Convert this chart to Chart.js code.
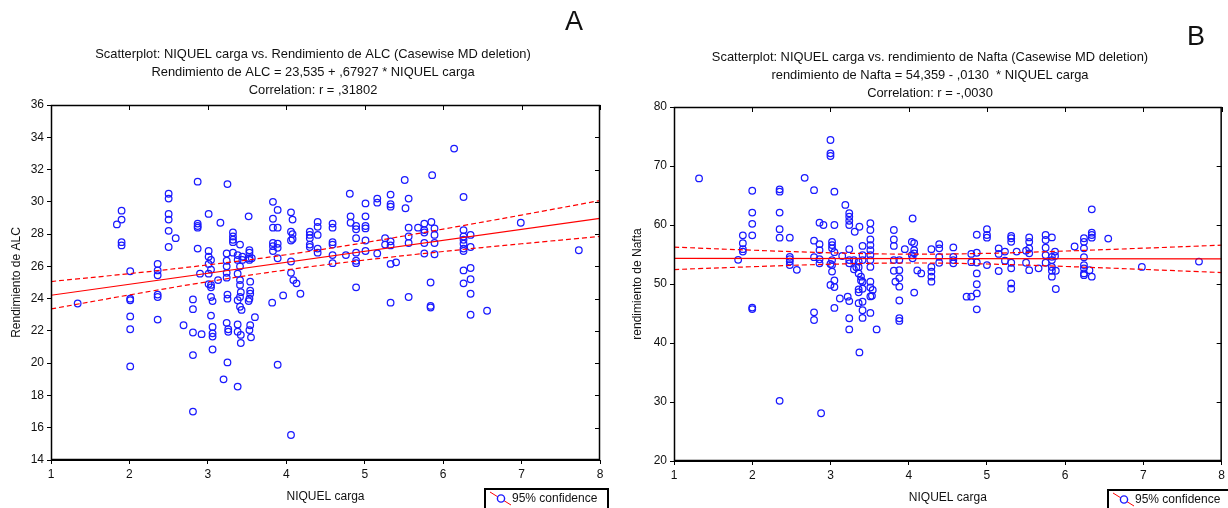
<!DOCTYPE html>
<html>
<head>
<meta charset="utf-8">
<script src="https://cdn.jsdelivr.net/npm/chart.js@4.4.0/dist/chart.umd.min.js"></script>
<style>
  html, body { margin: 0; padding: 0; background: #fff; }
  body { width: 1228px; height: 508px; position: relative; overflow: hidden; }
  canvas { position: absolute; top: 0; }
  #chartA { left: 0; }
  #chartB { left: 614px; }
</style>
</head>
<body>
<canvas id="chartA" width="614" height="508"></canvas>
<canvas id="chartB" width="614" height="508"></canvas>
<script>
// --- Datos A: NIQUEL carga vs Rendimiento de ALC ---
const alcX = [
  1.34, 1.84, 1.90, 1.90, 1.90, 1.90, 2.01, 2.01, 2.01, 2.01, 2.01, 2.01,
  2.36, 2.36, 2.36, 2.36, 2.36, 2.36, 2.50, 2.50, 2.50, 2.50, 2.50, 2.50,
  2.59, 2.69, 2.81, 2.81, 2.81, 2.81, 2.81, 2.87, 2.87, 2.87, 2.87, 2.87,
  2.90, 2.92, 3.01, 3.01, 3.01, 3.04, 3.01, 3.04, 3.01, 3.01, 3.04, 3.04,
  3.04, 3.06, 3.04, 3.06, 3.06, 3.06, 3.06, 3.13, 3.16, 3.20, 3.24, 3.24,
  3.24, 3.24, 3.24, 3.25, 3.25, 3.25, 3.24, 3.26, 3.26, 3.25, 3.32, 3.32,
  3.32, 3.32, 3.32, 3.38, 3.38, 3.38, 3.38, 3.38, 3.38, 3.38, 3.41, 3.41,
  3.41, 3.41, 3.42, 3.41, 3.41, 3.43, 3.42, 3.42, 3.44, 3.44, 3.52, 3.53,
  3.53, 3.53, 3.56, 3.53, 3.54, 3.54, 3.54, 3.53, 3.52, 3.54, 3.53, 3.55,
  3.60, 3.82, 3.83, 3.83, 3.83, 3.83, 3.83, 3.83, 3.89, 3.89, 3.89, 3.89,
  3.89, 3.89, 3.96, 4.06, 4.08, 4.06, 4.08, 4.08, 4.06, 4.06, 4.06, 4.09,
  4.13, 4.18, 4.06, 4.30, 4.30, 4.30, 4.30, 4.30, 4.40, 4.40, 4.40, 4.40,
  4.40, 4.59, 4.59, 4.59, 4.59, 4.59, 4.59, 4.76, 4.81, 4.82, 4.82, 4.89,
  4.89, 4.89, 4.89, 4.89, 4.89, 4.89, 5.01, 5.01, 5.01, 5.01, 5.01, 5.01,
  5.16, 5.16, 5.16, 5.26, 5.26, 5.33, 5.33, 5.33, 5.33, 5.33, 5.33, 5.33,
  5.40, 5.51, 5.52, 5.56, 5.56, 5.56, 5.56, 5.56, 5.68, 5.76, 5.76, 5.76,
  5.76, 5.76, 5.85, 5.86, 5.89, 5.89, 5.89, 5.89, 5.84, 5.84, 5.84, 6.14,
  6.26, 6.26, 6.26, 6.26, 6.26, 6.26, 6.26, 6.35, 6.35, 6.26, 6.35, 6.26,
  6.35, 6.35, 6.35, 6.56, 6.99, 7.73
];
const alcY = [
  23.7, 28.6, 29.45, 28.9, 27.5, 27.3, 25.7, 24.0, 23.9, 22.9, 22.1, 19.8,
  26.15, 25.75, 25.45, 24.25, 24.1, 22.7, 30.5, 30.2, 29.25, 28.9, 28.2, 27.2,
  27.75, 22.35, 23.95, 23.35, 21.9, 20.5, 17.0, 31.25, 28.65, 28.5, 28.4, 27.1,
  25.55, 21.8, 29.25, 26.95, 26.6, 26.4, 26.15, 25.8, 25.55, 24.9, 24.85, 24.7,
  24.1, 23.85, 22.95, 22.25, 21.85, 21.65, 20.85, 25.15, 28.7, 19.0, 26.8, 26.35,
  26.0, 25.6, 25.3, 31.1, 24.25, 24.0, 22.5, 22.1, 21.95, 20.05, 28.1, 27.85,
  27.65, 27.5, 26.85, 26.7, 26.4, 25.55, 23.9, 22.4, 21.95, 18.55, 27.35, 26.0,
  25.15, 24.85, 24.4, 24.1, 23.5, 23.3, 21.75, 21.25, 26.6, 26.4, 29.1, 27.0,
  26.85, 26.5, 26.5, 26.4, 25.05, 24.5, 24.3, 24.0, 23.85, 22.35, 22.05, 21.6,
  22.85, 23.75, 30.0, 28.95, 28.4, 27.45, 27.25, 26.95, 29.5, 28.4, 27.4, 27.15,
  26.5, 19.9, 24.2, 29.35, 28.9, 28.15, 28.0, 27.7, 27.6, 26.3, 25.6, 25.15,
  24.95, 24.3, 15.55, 28.15, 27.95, 27.75, 27.35, 27.2, 28.75, 28.45, 27.95, 27.1,
  26.85, 28.65, 28.4, 27.5, 27.35, 26.7, 26.2, 26.7, 30.5, 29.1, 28.7, 28.5,
  28.3, 27.75, 26.85, 26.35, 26.2, 24.7, 29.9, 29.1, 28.5, 28.35, 27.6, 26.95,
  30.2, 29.95, 26.8, 27.75, 27.35, 30.45, 29.85, 29.7, 27.55, 27.3, 26.15, 23.75,
  26.25, 31.35, 29.6, 30.2, 28.4, 27.85, 27.45, 24.1, 28.4, 28.65, 28.25, 28.1,
  27.45, 26.8, 28.75, 31.65, 28.35, 27.95, 27.45, 26.75, 25.0, 23.55, 23.45, 33.3,
  30.3, 28.25, 27.85, 27.65, 27.4, 27.1, 26.95, 27.95, 27.2, 25.75, 25.9, 24.95,
  25.2, 24.3, 23.0, 23.25, 28.7, 27.0
];

// --- Datos B: NIQUEL carga vs rendimiento de Nafta ---
const naftaX = [
  1.32, 1.82, 1.88, 1.88, 1.88, 1.88, 2.00, 2.00, 2.00, 2.00, 2.00, 2.00,
  2.35, 2.35, 2.35, 2.35, 2.35, 2.35, 2.48, 2.48, 2.48, 2.48, 2.48, 2.57,
  2.67, 2.79, 2.79, 2.79, 2.79, 2.79, 2.86, 2.86, 2.86, 2.86, 2.86, 2.88,
  2.91, 3.00, 3.00, 3.00, 3.00, 3.00, 3.02, 3.02, 3.02, 3.02, 3.02, 3.02,
  3.05, 3.05, 3.05, 3.05, 3.05, 3.05, 3.12, 3.15, 3.19, 3.22, 3.24, 3.24,
  3.24, 3.24, 3.24, 3.24, 3.24, 3.24, 3.24, 3.24, 3.30, 3.30, 3.31, 3.33,
  3.36, 3.36, 3.36, 3.36, 3.36, 3.36, 3.37, 3.37, 3.39, 3.39, 3.41, 3.41,
  3.41, 3.41, 3.41, 3.41, 3.41, 3.41, 3.51, 3.51, 3.51, 3.51, 3.51, 3.51,
  3.51, 3.51, 3.51, 3.51, 3.51, 3.51, 3.54, 3.53, 3.59, 3.81, 3.81, 3.81,
  3.81, 3.81, 3.83, 3.88, 3.88, 3.88, 3.88, 3.88, 3.88, 3.88, 3.95, 4.05,
  4.04, 4.07, 4.04, 4.07, 4.07, 4.05, 4.07, 4.11, 4.16, 4.29, 4.29, 4.29,
  4.29, 4.29, 4.39, 4.39, 4.39, 4.39, 4.57, 4.57, 4.57, 4.57, 4.74, 4.80,
  4.80, 4.80, 4.87, 4.87, 4.87, 4.87, 4.87, 4.87, 4.87, 5.00, 5.00, 5.00,
  5.00, 5.15, 5.15, 5.15, 5.23, 5.23, 5.31, 5.31, 5.31, 5.31, 5.31, 5.31,
  5.31, 5.38, 5.50, 5.50, 5.54, 5.54, 5.54, 5.54, 5.54, 5.66, 5.75, 5.75,
  5.75, 5.75, 5.75, 5.83, 5.83, 5.83, 5.83, 5.83, 5.83, 5.87, 5.87, 5.88,
  5.88, 6.12, 6.24, 6.24, 6.24, 6.24, 6.24, 6.24, 6.24, 6.24, 6.31, 6.34,
  6.34, 6.34, 6.34, 6.34, 6.55, 6.98, 7.71
];
const naftaY = [
  67.9, 54.1, 58.25, 56.9, 55.9, 55.5, 65.8, 62.1, 60.2, 58.25, 46.0, 45.75,
  66.05, 65.65, 62.1, 59.3, 57.85, 30.2, 57.85, 54.6, 54.2, 53.8, 53.2, 52.4,
  68.0, 65.9, 57.35, 54.55, 45.2, 43.9, 60.4, 56.75, 55.75, 54.2, 53.5, 28.1,
  60.0, 74.4, 72.15, 71.7, 53.4, 49.85, 57.15, 56.6, 56.05, 54.05, 53.2, 52.1,
  65.65, 60.0, 55.4, 50.6, 49.5, 45.95, 47.55, 54.75, 63.4, 47.85, 62.0, 61.4,
  60.7, 60.0, 55.9, 54.05, 53.5, 47.1, 44.2, 42.3, 54.05, 52.5, 58.85, 52.85,
  53.8, 52.85, 51.8, 49.1, 48.6, 46.75, 59.7, 38.4, 51.25, 50.6, 56.45, 54.9,
  54.05, 50.4, 49.2, 47.0, 45.55, 44.25, 60.3, 59.15, 57.55, 56.6, 55.75, 54.9,
  54.05, 52.9, 50.4, 49.4, 47.9, 45.1, 49.0, 48.0, 42.3, 59.15, 57.55, 56.45,
  54.05, 52.25, 50.4, 54.05, 52.35, 51.0, 49.55, 47.2, 44.2, 43.75, 55.9, 61.1,
  57.15, 56.9, 54.9, 55.75, 55.2, 54.35, 48.55, 52.3, 51.8, 55.9, 52.9, 52.1,
  51.25, 50.4, 56.75, 56.05, 54.6, 53.6, 56.2, 54.6, 54.05, 53.5, 47.85, 55.1,
  53.7, 47.85, 58.35, 55.3, 53.65, 51.8, 49.95, 48.4, 45.7, 59.3, 58.3, 57.85,
  53.2, 56.05, 55.1, 52.2, 55.5, 53.95, 58.15, 57.75, 57.15, 53.6, 52.65, 50.1,
  49.2, 55.5, 55.65, 53.6, 57.9, 57.15, 56.05, 55.2, 52.35, 52.65, 58.3, 57.45,
  56.15, 54.9, 53.6, 57.9, 54.6, 54.05, 52.9, 52.25, 51.25, 55.5, 54.75, 52.25,
  49.15, 56.35, 57.75, 57.15, 56.05, 54.55, 53.2, 52.65, 51.8, 51.5, 52.35, 62.65,
  58.7, 58.3, 57.85, 51.25, 57.7, 52.9, 53.8
];

// Recta de regresion e intervalos de confianza 95%
const fitX = [1, 8];
const alcFit = [24.21, 28.97];
const naftaFit = [54.35, 54.26];
const bandX = [1, 2, 3, 4, 5, 6, 7, 8];
const alcUpper = [25.06, 25.55, 26.09, 26.72, 27.47, 28.31, 29.18, 30.08];
const alcLower = [23.36, 24.23, 25.05, 25.78, 26.39, 26.92, 27.40, 27.86];
const naftaUpper = [56.25, 55.73, 55.29, 55.06, 55.19, 55.59, 56.07, 56.58];
const naftaLower = [52.45, 52.93, 53.35, 53.56, 53.39, 52.97, 52.47, 51.94];

const FONT = '"Liberation Sans", Arial, sans-serif';
const pts = (xs, ys) => xs.map((x, i) => ({ x: x, y: ys[i] }));

// Marco, ticks interiores, titulos y leyenda
const extras = {
  id: 'extras',
  afterDraw(chart, args, o) {
    const ctx = chart.ctx;
    const a = chart.chartArea;
    const xs = chart.scales.x, ys = chart.scales.y;
    ctx.save();
    ctx.strokeStyle = '#000';
    ctx.lineWidth = 1.5;
    ctx.strokeRect(a.left + 0.5, a.top + 0.5, a.right - a.left - 1, a.bottom - a.top - 1);
    ctx.lineWidth = 1;
    ctx.beginPath();
    xs.ticks.forEach(t => {
      const px = Math.round(xs.getPixelForValue(t.value)) + 0.5;
      ctx.moveTo(px, a.top); ctx.lineTo(px, a.top + 5);
    });
    ys.ticks.forEach(t => {
      const py = Math.round(ys.getPixelForValue(t.value)) + 0.5;
      ctx.moveTo(a.right, py); ctx.lineTo(a.right - 5, py);
    });
    ctx.stroke();

    ctx.fillStyle = '#111';
    ctx.textAlign = 'center';
    ctx.textBaseline = 'middle';
    ctx.font = '12.9px ' + FONT;
    o.lines.forEach((s, i) => ctx.fillText(s, o.titleX, o.titleY + i * 18));
    ctx.font = '27px ' + FONT;
    ctx.fillText(o.letter, o.letterX, o.letterY);

    // leyenda
    const lx = o.legendX, ly = o.legendY;
    ctx.lineWidth = 2;
    ctx.strokeStyle = '#000';
    ctx.strokeRect(lx, ly, o.legendW, 30);
    ctx.lineWidth = 1;
    ctx.strokeStyle = '#ff0000';
    ctx.beginPath();
    ctx.moveTo(lx + 5, ly + 3); ctx.lineTo(lx + 26, ly + 16);
    ctx.stroke();
    ctx.strokeStyle = '#1a1aff';
    ctx.lineWidth = 1.4;
    ctx.fillStyle = '#fff';
    ctx.beginPath();
    ctx.arc(lx + 16, ly + 9.5, 3.6, 0, Math.PI * 2);
    ctx.fill(); ctx.stroke();
    ctx.fillStyle = '#111';
    ctx.textAlign = 'left';
    ctx.font = '12px ' + FONT;
    ctx.fillText('95% confidence', lx + 27, ly + 9.5);
    ctx.restore();
  }
};

function makeChart(id, p) {
  const ctx = document.getElementById(id).getContext('2d');
  return new Chart(ctx, {
    type: 'scatter',
    data: {
      datasets: [
        { type: 'line', data: pts(fitX, p.fit), borderColor: '#ff0000', borderWidth: 1.2,
          pointRadius: 0, fill: false, order: 0 },
        { type: 'line', data: pts(bandX, p.upper), borderColor: '#ff0000', borderWidth: 1.2,
          borderDash: [5, 3], pointRadius: 0, fill: false, tension: 0.4, order: 0 },
        { type: 'line', data: pts(bandX, p.lower), borderColor: '#ff0000', borderWidth: 1.2,
          borderDash: [5, 3], pointRadius: 0, fill: false, tension: 0.4, order: 0 },
        { data: pts(p.xs, p.ys), borderColor: '#1a1aff', backgroundColor: 'rgba(255,255,255,0)',
          borderWidth: 1.25, pointRadius: 3.3, pointHoverRadius: 3.3, order: 1 }
      ]
    },
    options: {
      responsive: false,
      animation: false,
      events: [],
      layout: { padding: p.padding },
      plugins: {
        legend: { display: false },
        tooltip: { enabled: false },
        extras: p.extras
      },
      scales: {
        x: {
          type: 'linear', min: 1, max: 8,
          ticks: { stepSize: 1, color: '#111', padding: 3, font: { family: FONT, size: 12 } },
          grid: { drawOnChartArea: false, drawTicks: true, tickLength: 4, color: '#000' },
          border: { color: '#000' },
          title: { display: true, text: 'NIQUEL carga', color: '#111',
                   font: { family: FONT, size: 12 }, padding: { top: 0, bottom: p.xTitlePad } },
          afterFit: s => { s.height = p.xHeight; }
        },
        y: {
          type: 'linear', min: p.yMin, max: p.yMax,
          ticks: { stepSize: p.yStep, color: '#111', padding: 3, font: { family: FONT, size: 12 } },
          grid: { drawOnChartArea: false, drawTicks: true, tickLength: 4, color: '#000' },
          border: { color: '#000' },
          title: { display: true, text: p.yTitle, color: '#111',
                   font: { family: FONT, size: 12 }, padding: { top: p.yTitlePad, bottom: 0 } },
          afterFit: s => { s.width = p.yWidth; }
        }
      }
    },
    plugins: [extras]
  });
}

makeChart('chartA', {
  xs: alcX, ys: alcY, fit: alcFit, upper: alcUpper, lower: alcLower,
  yMin: 14, yMax: 36, yStep: 2, yTitle: 'Rendimiento de ALC',
  padding: { top: 105, right: 14, bottom: 0, left: 0 },
  xHeight: 48, yWidth: 51, xTitlePad: 4, yTitlePad: 9,
  extras: {
    lines: ['Scatterplot: NIQUEL carga vs. Rendimiento de ALC (Casewise MD deletion)',
            'Rendimiento de ALC = 23,535 + ,67927 * NIQUEL carga',
            'Correlation: r = ,31802'],
    titleX: 313, titleY: 54, letter: 'A', letterX: 574, letterY: 23,
    legendX: 485, legendY: 489, legendW: 123
  }
});

makeChart('chartB', {
  xs: naftaX, ys: naftaY, fit: naftaFit, upper: naftaUpper, lower: naftaLower,
  yMin: 20, yMax: 80, yStep: 10, yTitle: 'rendimiento de Nafta',
  padding: { top: 107, right: 6, bottom: 0, left: 0 },
  xHeight: 47, yWidth: 60, xTitlePad: 3, yTitlePad: 16,
  extras: {
    lines: ['Scatterplot: NIQUEL carga vs. rendimiento de Nafta (Casewise MD deletion)',
            'rendimiento de Nafta = 54,359 - ,0130  * NIQUEL carga',
            'Correlation: r = -,0030'],
    titleX: 316, titleY: 57, letter: 'B', letterX: 582, letterY: 38,
    legendX: 494, legendY: 490, legendW: 140
  }
});
</script>
</body>
</html>
